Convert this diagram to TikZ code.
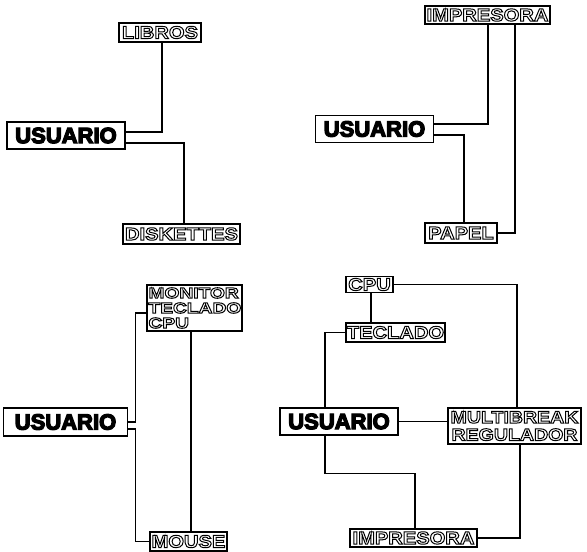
\documentclass[tikz,border=0pt]{standalone}
\usepackage{fontspec}
\newfontfamily\olfont{Liberation Sans}[FakeStretch=1.15]
\newfontfamily\olwide{Liberation Sans}[FakeStretch=1.28]
\newfontfamily\usfont{Liberation Sans}
\newcommand\olt[1]{\special{pdf:literal direct 1 Tr 1.0 w}#1\special{pdf:literal direct 0 Tr}}
\newcommand\ust[1]{\special{pdf:literal direct 2 Tr 1.3 w}#1\special{pdf:literal direct 0 Tr}}
\tikzset{
  ubox/.style={draw, line width=1.5pt, inner sep=0pt, minimum width=118pt, minimum height=27pt,
    font=\usfont\bfseries\fontsize{22}{22}\selectfont},
  lbox/.style={draw, line width=1.3pt, inner sep=0pt, minimum height=19pt,
    font=\olfont\bfseries\fontsize{17.5}{15}\selectfont},
  conn/.style={line width=1.2pt}
}
\begin{document}
\begin{tikzpicture}[x=1pt,y=-1pt]
\useasboundingbox (0,0) rectangle (587,552);
% Panel 1
\node[lbox, minimum width=82pt] (libros) at (160,32.5) {\olt{LIBROS}};
\node[ubox] (u1) at (66,135.5) {\ust{USUARIO}};
\node[lbox, minimum width=117pt, minimum height=20pt] (disk) at (181.5,234) {\olt{DISKETTES}};
\draw[conn] ([yshift=3.5pt]u1.east) -| ([xshift=2pt]libros.south);
\draw[conn] ([yshift=-7.5pt]u1.east) -| ([xshift=2.5pt]disk.north);
% Panel 2
\node[lbox, minimum width=125pt, minimum height=18pt] (imp2) at (487.5,15) {\olt{IMPRESORA}};
\node[ubox] (u2) at (374.5,129) {\ust{USUARIO}};
\node[lbox, minimum width=72pt, minimum height=20pt] (papel) at (461,233) {\olt{PAPEL}};
\draw[conn] ([yshift=5pt]u2.east) -| ([xshift=0.5pt]imp2.south);
\draw[conn] ([yshift=-6pt]u2.east) -| ([xshift=3pt]papel.north);
\draw[conn] ([xshift=27.5pt]imp2.south) |- (papel.east);
% Panel 3
\node[lbox, minimum width=95pt, minimum height=46pt, align=left, text width=92pt,
  font=\olwide\bfseries\fontsize{15}{15}\selectfont] (mon) at (194.5,308)
  {\olt{MONITOR}\\\olt{TECLADO}\\\olt{CPU}};
\node[ubox, minimum width=124pt, minimum height=28pt] (u3) at (65.5,422) {\ust{USUARIO}};
\node[lbox, minimum width=77pt] (mouse) at (188.5,541.5) {\olt{MOUSE}};
\draw[conn] (u3.east) -- ++(7,0) |- ([yshift=-5pt]mon.west);
\draw[conn] ([yshift=-7pt]u3.east) -- ++(7,0) |- (mouse.west);
\draw[conn] ([xshift=2.5pt]mouse.north) -- ([xshift=2.5pt]mouse.north |- mon.south);
% Panel 4
\node[lbox, minimum width=47pt, minimum height=16pt] (cpu) at (369.5,284.5) {\olt{CPU}};
\node[lbox, minimum width=99pt] (tec) at (395.5,332.5) {\olt{TECLADO}};
\node[ubox] (u4) at (339,421.5) {\ust{USUARIO}};
\node[lbox, minimum width=133pt, minimum height=36pt, align=center,
  font=\olfont\bfseries\fontsize{17}{17.5}\selectfont] (multi) at (514.5,426)
  {\olt{MULTIBREAK}\\\olt{REGULADOR}};
\node[lbox, minimum width=127pt, minimum height=18pt] (imp4) at (413.5,538) {\olt{IMPRESORA}};
\draw[conn] ([xshift=1.5pt]cpu.south) -- ([xshift=1.5pt]cpu.south |- tec.north);
\draw[conn] (cpu.east) -| ([xshift=2.5pt]multi.north);
\draw[conn] (tec.west) -| ([xshift=-14pt]u4.north);
\draw[conn] (u4.east) -- (u4.east -| multi.west);
\draw[conn] ([xshift=-14pt]u4.south) -- ++(0,38) -| ([xshift=1.5pt]imp4.north);
\draw[conn] ([xshift=5.5pt]multi.south) |- (imp4.east);
\end{tikzpicture}
\end{document}
